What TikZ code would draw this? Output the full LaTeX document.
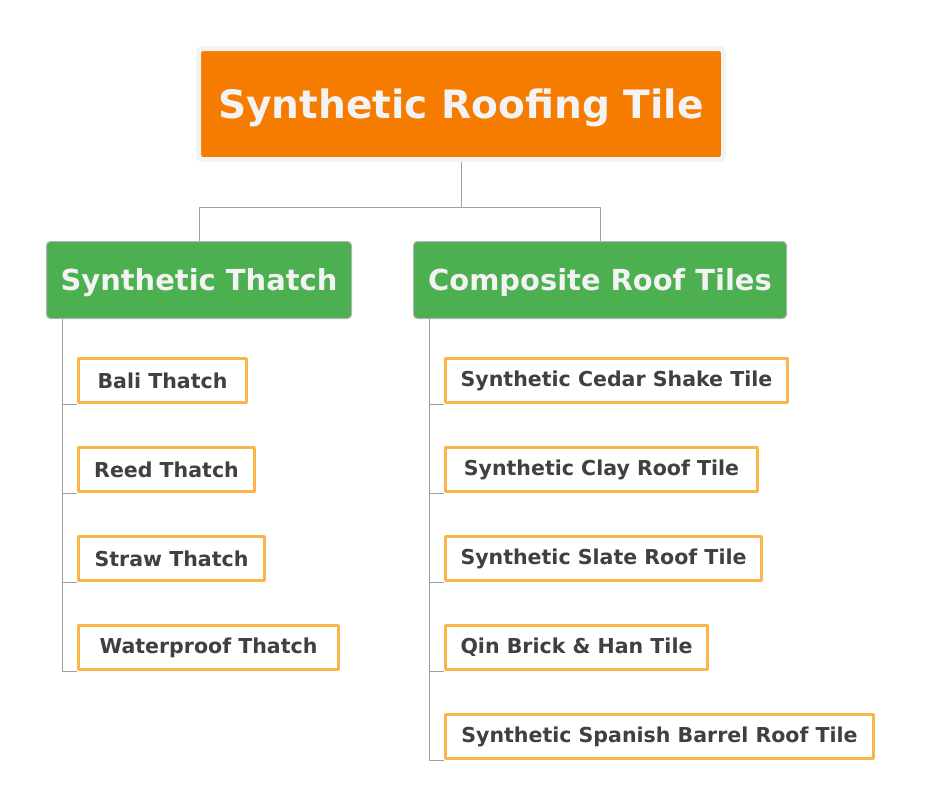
\documentclass[tikz,border=0pt]{standalone}
\usepackage{fontspec}
\setmainfont{DejaVu Sans}
\definecolor{rootorange}{HTML}{F57C00}
\definecolor{rootrim}{HTML}{F3F3F3}
\definecolor{groupgreen}{HTML}{4CAF50}
\definecolor{leaforange}{HTML}{FBB447}
\definecolor{leaftext}{HTML}{404040}
\definecolor{linegray}{HTML}{A0A0A0}
\begin{document}
\begin{tikzpicture}[x=0.75pt,y=-0.75pt,line join=round,
  conn/.style={draw=linegray,line width=0.75pt},
  root/.style={fill=rootorange,draw=rootrim,line width=3.75pt,rounded corners=3pt,anchor=north west,inner sep=0pt,
    minimum width=393.75pt,minimum height=83.25pt,text depth=0pt,text=rootrim,font=\bfseries\fontsize{29.3}{34}\selectfont},
  group/.style={fill=groupgreen,draw=linegray!80,line width=0.75pt,rounded corners=3pt,anchor=north west,inner sep=0pt,
    minimum height=57.75pt,text depth=0pt,text=rootrim,font=\bfseries\fontsize{21.7}{26}\selectfont},
  leaf/.style={fill=white,draw=leaforange,line width=2.25pt,anchor=north west,inner sep=0pt,
    minimum height=33pt,text=leaftext,font=\bfseries\fontsize{15.4}{18}\selectfont}]
\useasboundingbox (0,0) rectangle (927,810);
\node[root] (tile) at (196,46) {Synthetic Roofing Tile};
\node[group,minimum width=228.75pt] (thatch) at (46,241) {Synthetic Thatch};
\node[group,minimum width=279.75pt] (composite) at (413,241) {Composite Roof Tiles};
\draw[conn] (tile.south) -- ++(0,45) -| (thatch.north);
\draw[conn] (tile.south) -- ++(0,45) -| (composite.north);
% thatch kinds
\foreach \n/\t/\y/\w in {bali/Bali Thatch/357/171,reed/Reed Thatch/446/179,straw/Straw Thatch/535/189,waterproof/Waterproof Thatch/624/263}{
  \node[leaf,minimum width={(\w-3)*0.75pt}] (\n) at (77,\y) {\t};
  \draw[conn] ([xshift=12pt]thatch.south west) |- (\n.south west);}
% composite kinds
\foreach \n/\t/\y/\w in {cedar/Synthetic Cedar Shake Tile/357/345,clay/Synthetic Clay Roof Tile/446/315,slate/Synthetic Slate Roof Tile/535/319,qin/Qin Brick \& Han Tile/624/265,spanish/Synthetic Spanish Barrel Roof Tile/713/431}{
  \node[leaf,minimum width={(\w-3)*0.75pt}] (\n) at (444,\y) {\t};
  \draw[conn] ([xshift=12pt]composite.south west) |- (\n.south west);}
\end{tikzpicture}
\end{document}
